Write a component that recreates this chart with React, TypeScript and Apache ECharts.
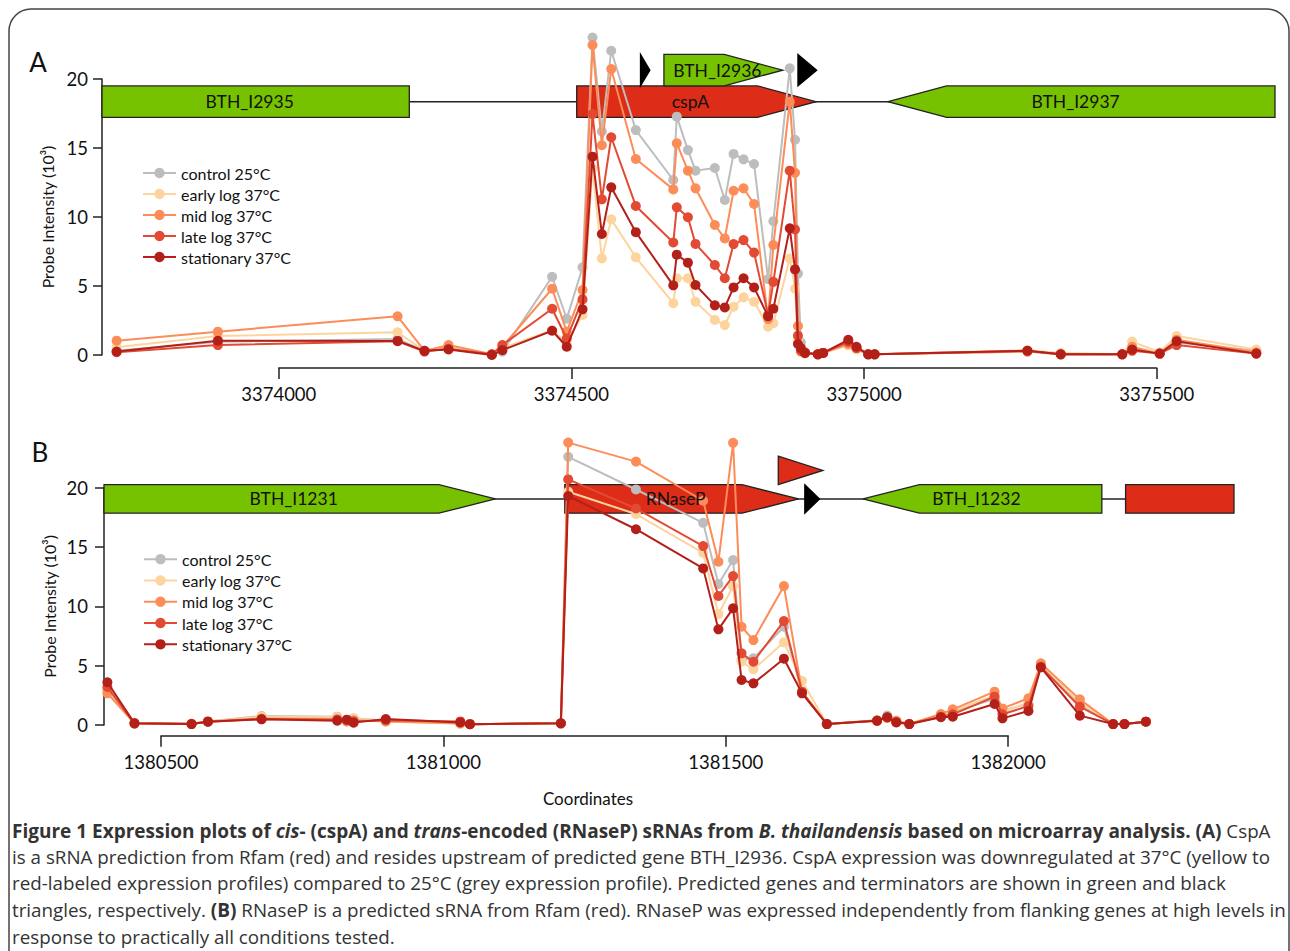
import React, { useEffect, useRef } from "react";
import * as echarts from "echarts";

const FONT = "Lato, 'Open Sans', sans-serif";
const CAP_FONT = "'Open Sans', Lato, sans-serif";

const SERIES_NAMES = ["control 25°C", "early log 37°C", "mid log 37°C", "late log 37°C", "stationary 37°C"];
const SERIES_COLORS = ["#BDBDBD", "#FDD49E", "#FC8D59", "#E34A33", "#B3201A"];

// ---------- Panel A (cspA) ----------
const coordsA = [3373723, 3373896, 3374203, 3374249, 3374290, 3374364, 3374382, 3374467, 3374492, 3374519, 3374536, 3374552, 3374568, 3374610, 3374674, 3374680, 3374699, 3374712, 3374745, 3374762, 3374777, 3374794, 3374812, 3374836, 3374845, 3374873, 3374882, 3374887, 3374892, 3374899, 3374921, 3374930, 3374973, 3374987, 3375007, 3375018, 3375279, 3375336, 3375441, 3375458, 3375505, 3375534, 3375670];
const controlA = [0.3, 0.96, 1.16, 0.3, 0.5, 0.05, 0.25, 5.67, 2.63, 6.35, 23.0, 16.2, 22.05, 16.3, 12.68, 17.27, 14.85, 13.36, 13.55, 11.23, 14.57, 14.18, 13.84, 5.5, 9.7, 20.77, 15.6, 5.9, 0.9, 0.2, 0.05, 0.15, 0.9, 0.5, 0.05, 0.05, 0.25, 0.05, 0.05, 0.5, 0.1, 0.9, 0.3];
const earlyA = [0.56, 1.38, 1.64, 0.3, 0.55, 0.05, 0.5, 1.8, 0.9, 2.9, 13.5, 7.0, 9.83, 7.08, 3.75, 5.56, 5.56, 3.86, 2.54, 2.17, 3.5, 4.18, 3.86, 2.05, 2.3, 7.0, 4.8, 1.0, 0.2, 0.1, 0.05, 0.15, 0.7, 0.4, 0.05, 0.05, 0.35, 0.15, 0.05, 0.97, 0.2, 1.38, 0.4];
const midA = [1.04, 1.69, 2.8, 0.3, 0.72, 0.05, 0.6, 4.8, 1.69, 4.71, 22.46, 15.2, 20.72, 14.2, 12.0, 15.34, 13.36, 12.08, 9.42, 8.45, 11.9, 12.08, 10.94, 2.6, 7.97, 18.36, 13.2, 2.1, 0.4, 0.2, 0.05, 0.15, 0.8, 0.5, 0.05, 0.05, 0.25, 0.05, 0.05, 0.6, 0.1, 1.1, 0.2];
const lateA = [0.2, 0.72, 1.0, 0.25, 0.45, 0.05, 0.72, 3.35, 1.2, 4.03, 17.46, 11.28, 15.78, 10.8, 8.15, 10.7, 9.98, 8.05, 6.52, 5.56, 8.04, 8.33, 7.42, 2.9, 5.3, 13.36, 9.1, 1.4, 0.3, 0.15, 0.05, 0.15, 0.95, 0.5, 0.05, 0.05, 0.3, 0.05, 0.05, 0.3, 0.1, 0.72, 0.1];
const stationaryA = [0.25, 1.04, 1.02, 0.3, 0.4, 0.0, 0.35, 1.76, 0.6, 3.31, 14.37, 8.77, 12.15, 8.9, 5.05, 7.27, 6.69, 5.07, 3.6, 3.45, 4.9, 5.56, 4.9, 2.8, 3.35, 9.18, 6.2, 0.8, 0.5, 0.15, 0.05, 0.15, 1.1, 0.6, 0.05, 0.05, 0.31, 0.05, 0.05, 0.4, 0.1, 1.0, 0.1];
const xRangeA = [3373698, 3375702];
const xTicksA = [3374000, 3374500, 3375000, 3375500];

// genes: [label, start, end, strand, row, kind]  kind 0 = gene, 1 = sRNA (Rfam), 2 = terminator
const genesA: [string, number, number, number, number, number][] = [
  ["BTH_I2935", 3373300, 3374223, -1, 0, 0],
  ["cspA", 3374509, 3374918, 1, 0, 1],
  ["", 3374618, 3374634, 1, 1, 2],
  ["BTH_I2936", 3374658, 3374861, 1, 1, 0],
  ["", 3374887, 3374919, 1, 1, 2],
  ["BTH_I2937", 3375041, 3376100, -1, 0, 0],
];

// ---------- Panel B (RNaseP) ----------
const coordsB = [1380405, 1380453, 1380554, 1380583, 1380678, 1380812, 1380829, 1380841, 1380898, 1381030, 1381047, 1381208, 1381221, 1381341, 1381460, 1381487, 1381513, 1381528, 1381549, 1381603, 1381635, 1381679, 1381768, 1381786, 1381802, 1381825, 1381881, 1381902, 1381976, 1381990, 1382036, 1382058, 1382127, 1382186, 1382206, 1382244];
const controlB = [3.0, 0.2, 0.1, 0.3, 0.76, 0.7, 0.35, 0.56, 0.35, 0.1, 0.07, 0.14, 22.6, 19.85, 17.04, 11.88, 13.9, 5.5, 5.62, 8.28, 2.8, 0.08, 0.4, 0.8, 0.3, 0.08, 0.8, 1.1, 2.2, 1.2, 1.8, 5.0, 1.8, 0.08, 0.08, 0.28];
const earlyB = [2.8, 0.15, 0.1, 0.3, 0.7, 0.65, 0.3, 0.56, 0.3, 0.1, 0.07, 0.14, 19.66, 17.78, 14.5, 9.35, 11.7, 5.33, 4.69, 6.97, 3.73, 0.08, 0.35, 0.6, 0.35, 0.08, 0.85, 1.2, 2.5, 1.1, 1.9, 5.1, 1.9, 0.08, 0.08, 0.28];
const midB = [2.67, 0.15, 0.1, 0.3, 0.55, 0.5, 0.3, 0.4, 0.3, 0.15, 0.07, 0.14, 23.8, 22.2, 18.9, 13.76, 23.78, 8.28, 7.16, 11.71, 2.8, 0.08, 0.4, 0.6, 0.35, 0.08, 0.93, 1.32, 2.81, 1.4, 2.25, 5.2, 2.16, 0.08, 0.08, 0.28];
const lateB = [3.2, 0.12, 0.08, 0.28, 0.5, 0.45, 0.4, 0.3, 0.4, 0.3, 0.07, 0.14, 20.7, 18.25, 15.08, 10.87, 12.55, 6.04, 5.33, 8.76, 2.8, 0.08, 0.35, 0.65, 0.25, 0.08, 0.7, 0.9, 2.39, 0.9, 1.6, 4.9, 1.54, 0.08, 0.08, 0.28];
const stationaryB = [3.6, 0.14, 0.08, 0.28, 0.48, 0.36, 0.45, 0.2, 0.5, 0.22, 0.07, 0.14, 19.3, 16.5, 13.2, 8.06, 9.83, 3.79, 3.51, 5.59, 2.67, 0.08, 0.36, 0.65, 0.22, 0.08, 0.65, 0.7, 1.77, 0.56, 1.18, 4.86, 0.79, 0.08, 0.08, 0.28];
const xRangeB = [1380399, 1382400];
const xTicksB = [1380500, 1381000, 1381500, 1382000];

const genesB: [string, number, number, number, number, number][] = [
  ["BTH_I1231", 1379900, 1381092, 1, 0, 0],
  ["RNaseP", 1381215, 1381629, 1, 0, 1],
  ["", 1381593, 1381672, 1, 1, 1],
  ["", 1381640, 1381666, 1, 0, 2],
  ["BTH_I1232", 1381743, 1382166, -1, 0, 0],
  ["", 1382208, 1382700, 1, 0, 1],
];

const yMin = 0;
const yMax = 20;
const yStep = 5;
const xStep = 500;
const HEAD_BP = 100;

const Y_NAME = "Probe Intensity (10³)";
const GENE_FILLS = ["#77C200", "#DD2C18", "#000000"];

const panels = [
  {
    tag: "A", coords: coordsA, values: [controlA, earlyA, midA, lateA, stationaryA], genes: genesA,
    xRange: xRangeA, xTicks: xTicksA,
    grid: { left: 102, top: 79, width: 1173, height: 276 }, axisGap: 13,
    track: 18.36, rowH: 31.5, legendLeft: 142, legendTop: 162.5, legendLH: 21,
    yLabelMargin: 14, xLabelMargin: 16, tagX: 38, tagY: 62,
  },
  {
    tag: "B", coords: coordsB, values: [controlB, earlyB, midB, lateB, stationaryB], genes: genesB,
    xRange: xRangeB, xTicks: xTicksB,
    grid: { left: 104, top: 487.7, width: 1130, height: 237.3 }, axisGap: 10.7,
    track: 19.05, rowH: 28.5, legendLeft: 143, legendTop: 548.5, legendLH: 21.3,
    yLabelMargin: 16, xLabelMargin: 17, tagX: 40, tagY: 452,
  },
];

function buildOption() {
  const grid: any[] = [];
  const xAxis: any[] = [];
  const yAxis: any[] = [];
  const series: any[] = [];
  const legend: any[] = [];
  const graphic: any[] = [];

  panels.forEach((p, i) => {
    const g = p.grid;
    const span = p.xRange[1] - p.xRange[0];
    const axLeft = g.left + ((p.xTicks[0] - p.xRange[0]) / span) * g.width;
    const axWidth = ((p.xTicks[p.xTicks.length - 1] - p.xTicks[0]) / span) * g.width;
    const axTop = g.top + g.height + p.axisGap - 1;

    grid.push({ left: g.left, top: g.top, width: g.width, height: g.height, containLabel: false, outerBoundsMode: "none" });
    grid.push({ left: axLeft, top: axTop, width: axWidth, height: 1, containLabel: false, outerBoundsMode: "none" });

    xAxis.push({ gridIndex: 2 * i, type: "value", min: p.xRange[0], max: p.xRange[1], show: false });
    xAxis.push({
      gridIndex: 2 * i + 1, type: "value", min: p.xTicks[0], max: p.xTicks[p.xTicks.length - 1], interval: xStep,
      axisLine: { show: true, lineStyle: { color: "#222", width: 1.5 } },
      axisTick: { show: true, length: 11, lineStyle: { color: "#222", width: 1.5 } },
      axisLabel: { show: true, fontSize: 18.5, color: "#111", fontFamily: FONT, margin: p.xLabelMargin, formatter: (v: number) => String(v) },
      splitLine: { show: false },
    });

    yAxis.push({
      gridIndex: 2 * i, type: "value", min: yMin, max: yMax, interval: yStep,
      axisLine: { show: true, lineStyle: { color: "#222", width: 1.5 } },
      axisTick: { show: true, length: 9, lineStyle: { color: "#222", width: 1.5 } },
      axisLabel: { show: true, fontSize: 18.5, color: "#111", fontFamily: FONT, margin: p.yLabelMargin },
      splitLine: { show: false },
      name: Y_NAME, nameLocation: "middle", nameRotate: 90, nameGap: 47, nameMoveOverlap: false,
      nameTextStyle: { fontSize: 16, color: "#111", fontFamily: FONT },
    });
    yAxis.push({ gridIndex: 2 * i + 1, type: "value", min: 0, max: 1, show: false });

    // gene track shapes
    series.push({
      type: "custom", xAxisIndex: 2 * i, yAxisIndex: 2 * i, clip: false, z: 1, silent: true,
      encode: { x: [0, 1], y: 3 },
      data: p.genes.map((d) => [d[1], d[2], d[3], d[4], d[5]]),
      renderItem: (params: any, api: any) => {
        const cs = params.coordSys;
        const start = api.value(0), end = api.value(1), dir = api.value(2), row = api.value(3), kind = api.value(4);
        const y0 = api.coord([start, p.track])[1];
        const yc = y0 - row * p.rowH;
        const top = yc - p.rowH / 2, bot = yc + p.rowH / 2;
        const cx = (v: number) => Math.max(cs.x, Math.min(cs.x + cs.width, api.coord([v, p.track])[0]));
        const len = end - start;
        let pts: number[][];
        if (len <= HEAD_BP) {
          pts = dir > 0 ? [[cx(start), top], [cx(end), yc], [cx(start), bot]] : [[cx(end), top], [cx(start), yc], [cx(end), bot]];
        } else if (dir > 0) {
          const xb = cx(end - HEAD_BP);
          pts = [[cx(start), top], [xb, top], [cx(end), yc], [xb, bot], [cx(start), bot]];
        } else {
          const xb = cx(start + HEAD_BP);
          pts = [[cx(start), yc], [xb, top], [cx(end), top], [cx(end), bot], [xb, bot]];
        }
        const children: any[] = [];
        if (params.dataIndex === 0) {
          children.push({ type: "line", shape: { x1: cs.x, y1: y0, x2: cs.x + cs.width, y2: y0 }, style: { stroke: "#222", lineWidth: 1.5 } });
        }
        children.push({ type: "polygon", shape: { points: pts }, style: { fill: GENE_FILLS[kind], stroke: kind === 2 ? "#000" : "#222", lineWidth: 1.3 } });
        return { type: "group", children };
      },
    });

    // data lines
    p.values.forEach((vals, k) => {
      series.push({
        type: "line", name: SERIES_NAMES[k], xAxisIndex: 2 * i, yAxisIndex: 2 * i,
        data: p.coords.map((c, j) => [c, vals[j]]),
        symbol: "circle", symbolSize: 10, showSymbol: true, clip: false, z: 3 + k * 0.01, silent: true,
        color: SERIES_COLORS[k],
        itemStyle: { color: SERIES_COLORS[k] },
        lineStyle: { color: SERIES_COLORS[k], width: 2 },
        emphasis: { disabled: true },
      });
    });

    // gene labels
    series.push({
      type: "custom", xAxisIndex: 2 * i, yAxisIndex: 2 * i, clip: false, z: 5, silent: true,
      encode: { x: [0, 1], y: 3 },
      data: p.genes.map((d) => [d[1], d[2], d[3], d[4], d[5]]),
      renderItem: (params: any, api: any) => {
        const name = p.genes[params.dataIndex][0];
        if (!name) return { type: "group", children: [] };
        const cs = params.coordSys;
        const start = api.value(0), end = api.value(1), row = api.value(3);
        const cx = (v: number) => Math.max(cs.x, Math.min(cs.x + cs.width, api.coord([v, p.track])[0]));
        const yc = api.coord([start, p.track])[1] - row * p.rowH;
        return {
          type: "text", x: (cx(start) + cx(end)) / 2 - 6, y: yc,
          style: { text: name, align: "center", verticalAlign: "middle", fontSize: 17.5, fontFamily: FONT, fill: "#111" },
        };
      },
    });

    legend.push({
      data: SERIES_NAMES, orient: "vertical", left: p.legendLeft, top: p.legendTop, padding: 0,
      itemWidth: 33, itemHeight: 13, itemGap: 0, selectedMode: false,
      textStyle: { fontSize: 16, lineHeight: p.legendLH, color: "#111", fontFamily: FONT },
    });

    graphic.push({ type: "text", x: p.tagX, y: p.tagY, style: { text: p.tag, align: "center", verticalAlign: "middle", fontSize: 26, fontFamily: FONT, fill: "#111" } });
  });

  // frame
  graphic.unshift({ type: "rect", shape: { x: 9, y: 9, width: 1280, height: 1100, r: 22 }, style: { fill: "none", stroke: "#444", lineWidth: 1.5 }, z: -1 });
  graphic.push({ type: "text", x: 588, y: 798, style: { text: "Coordinates", align: "center", verticalAlign: "middle", fontSize: 17, fontFamily: FONT, fill: "#111" } });

  const fs = 18.8;
  const fb = 19.0;
  const base = { fontSize: fs, fontFamily: CAP_FONT, fill: "#333" };
  const rich = {
    b: { fontSize: fb, fontFamily: CAP_FONT, fontWeight: "bold", color: "#1a1a1a" },
    bi: { fontSize: fb, fontFamily: CAP_FONT, fontWeight: "bold", fontStyle: "italic", color: "#1a1a1a" },
    r: { fontSize: fs, fontFamily: CAP_FONT, color: "#333" },
  };
  const captionLines = [
    "{b|Figure 1 Expression plots of }{bi|cis}{b|- (cspA) and }{bi|trans}{b|-encoded (RNaseP) sRNAs from }{bi|B. thailandensis}{b| based on microarray analysis. (A)}{r| CspA}",
    "{r|is a sRNA prediction from Rfam (red) and resides upstream of predicted gene BTH_I2936. CspA expression was downregulated at 37°C (yellow to}",
    "{r|red-labeled expression profiles) compared to 25°C (grey expression profile). Predicted genes and terminators are shown in green and black}",
    "{r|triangles, respectively. }{b|(B)}{r| RNaseP is a predicted sRNA from Rfam (red). RNaseP was expressed independently from flanking genes at high levels in}",
    "{r|response to practically all conditions tested.}",
  ];
  const lineY = [831, 857, 883, 910, 937];
  captionLines.forEach((t, i) => {
    graphic.push({ type: "text", x: 12, y: lineY[i], style: { ...base, text: t, rich, align: "left", verticalAlign: "middle" } });
  });

  return { animation: false, backgroundColor: "#ffffff", grid, xAxis, yAxis, series, legend, graphic, tooltip: { show: false } };
}

export default function App() {
  const ref = useRef<HTMLDivElement>(null);
  useEffect(() => {
    document.body.style.margin = "0";
    if (!ref.current) return;
    const chart = echarts.init(ref.current, null, { renderer: "svg" });
    chart.setOption(buildOption() as any);
    return () => chart.dispose();
  }, []);
  return <div ref={ref} style={{ width: 1290, height: 951 }} />;
}
